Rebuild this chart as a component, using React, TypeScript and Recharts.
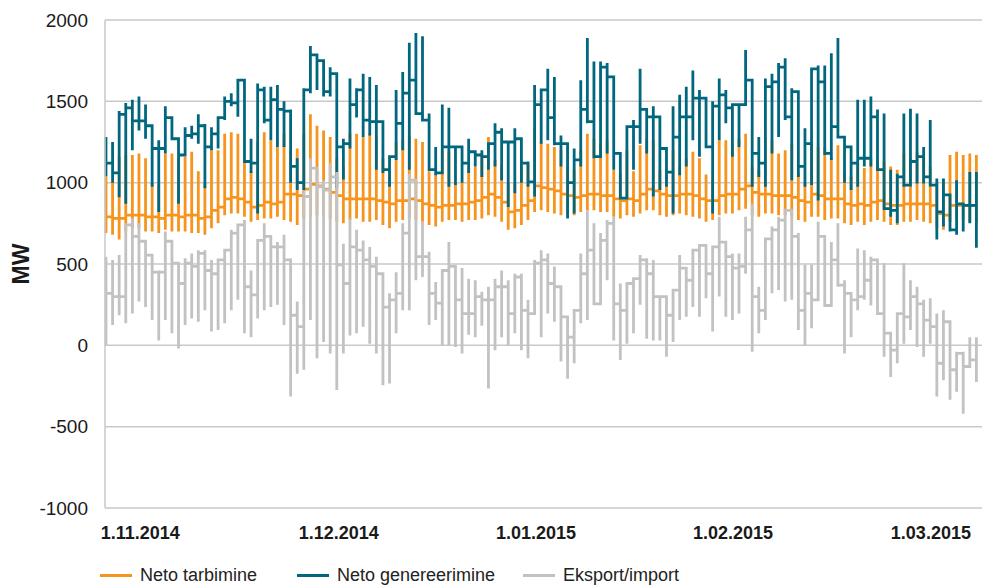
import { CartesianGrid, Legend, Line, LineChart, XAxis, YAxis } from 'recharts';

// one value per day, 1.11.2014 .. 12.03.2015 (hourly points of a day share one x, so each day is a stroke)
const consMin = [
  690, 680, 650, 700, 720, 720, 700, 700, 690, 710, 700, 700, 700, 690, 690, 680, 720, 750, 800, 810,
  810, 790, 760, 770, 780, 780, 790, 770, 760, 740, 780, 790, 800, 790, 780, 760, 750, 770, 780, 760,
  760, 770, 740, 720, 760, 770, 780, 770, 760, 740, 730, 760, 770, 770, 760, 770, 770, 780, 800, 790,
  760, 710, 720, 740, 770, 820, 830, 820, 810, 800, 810, 800, 820, 830, 830, 820, 820, 790, 780, 800,
  790, 810, 830, 830, 800, 790, 800, 810, 800, 790, 780, 760, 770, 800, 810, 810, 830, 840, 800, 790,
  810, 810, 800, 800, 790, 770, 760, 790, 790, 770, 780, 780, 750, 740, 760, 740, 760, 770, 760, 740,
  740, 760, 760, 770, 760, 750, 720, 710, 760, 770, 770, 760, 760,
];
const consMax = [
  1040, 1005, 1160, 1170, 1170, 1180, 1150, 1000, 990, 1180, 1180, 1150, 1160, 1190, 1070, 1000, 1200, 1200, 1300, 1310,
  1300, 1130, 1070, 1250, 1310, 1260, 1220, 1300, 1200, 1210, 1300, 1420, 1350, 1320, 1280, 1150, 1100, 1300, 1300, 1280,
  1300, 1280, 1150, 1080, 1250, 1260, 1290, 1270, 1250, 1070, 1050, 1200, 1190, 1000, 1000, 1090, 1100, 1180, 1280, 1140,
  1100, 1000, 1000, 1100, 1120, 1330, 1250, 1240, 1220, 1200, 1100, 1080, 1200, 1300, 1270, 1240, 1260, 1080, 1060, 1200,
  1070, 1230, 1270, 1260, 1080, 1050, 1200, 1100, 1150, 1190, 1150, 1050, 1020, 1260, 1260, 1240, 1270, 1300, 1100, 1080,
  1280, 1260, 1180, 1200, 1240, 1060, 1000, 1230, 1220, 1220, 1150, 1230, 1050, 1040, 1120, 1090, 1150, 1140, 1130, 1100,
  1080, 1180, 1150, 1190, 1170, 1100, 1000, 1020, 1170, 1190, 1170, 1180, 1170,
];
const consClose = [
  790, 780, 780, 800, 800, 800, 790, 790, 780, 800, 800, 790, 800, 800, 780, 790, 830, 850, 900, 910,
  900, 880, 850, 860, 880, 870, 880, 930, 930, 920, 960, 990, 980, 960, 940, 920, 900, 900, 900, 900,
  900, 890, 880, 870, 890, 890, 900, 890, 870, 860, 850, 860, 860, 870, 870, 880, 890, 910, 930, 910,
  880, 820, 830, 860, 890, 980, 970, 960, 950, 930, 920, 910, 920, 930, 930, 920, 920, 900, 890, 900,
  890, 930, 960, 950, 930, 920, 920, 930, 930, 920, 900, 890, 890, 920, 930, 930, 960, 980, 940, 930,
  930, 920, 920, 920, 910, 890, 880, 930, 920, 900, 900, 900, 870, 860, 870, 860, 880, 890, 870, 860,
  860, 870, 870, 870, 870, 860, 810, 800, 860, 860, 860, 860, 850,
];

const genMin = [
  1040, 1000, 910, 870, 1200, 1320, 1270, 975, 820, 1180, 1260, 870, 1180, 1270, 1240, 965, 1200, 1210, 1385, 1470,
  1405, 1140, 1060, 810, 1365, 1260, 1220, 1220, 1000, 955, 955, 1550, 1570, 1530, 1530, 965, 1020, 1210, 1400, 1280,
  1290, 1080, 1060, 975, 1140, 1200, 1080, 1420, 1385, 1080, 1045, 1060, 975, 985, 1000, 1060, 1100, 1035, 1080, 1100,
  1015, 850, 935, 1000, 975, 915, 1240, 1260, 1230, 1100, 780, 810, 1100, 1365, 1150, 1405, 1180, 1080, 905, 1100,
  1080, 1240, 1180, 915, 955, 975, 810, 1045, 1100, 1260, 1160, 1220, 810, 1260, 1365, 1160, 1220, 1490, 975, 1035,
  975, 1180, 1280, 1385, 1015, 1035, 975, 985, 890, 1170, 1140, 1280, 1000, 955, 975, 1100, 1100, 1080, 840, 790,
  750, 975, 1120, 995, 995, 985, 650, 730, 700, 680, 700, 750, 600,
];
const genMax = [
  1280, 1250, 1440, 1490, 1510, 1530, 1480, 1350, 1260, 1470, 1400, 1260, 1340, 1350, 1420, 1360, 1340, 1400, 1530, 1550,
  1630, 1630, 1270, 1610, 1590, 1590, 1600, 1500, 1450, 1150, 1580, 1840, 1785, 1750, 1710, 1670, 1270, 1640, 1580, 1670,
  1650, 1600, 1375, 1160, 1570, 1680, 1860, 1920, 1900, 1425, 1220, 1480, 1460, 1220, 1170, 1270, 1200, 1200, 1240, 1365,
  1335, 1250, 1335, 1260, 1130, 1600, 1570, 1700, 1650, 1290, 1120, 1210, 1630, 1890, 1745, 1745, 1735, 1650, 1180, 1335,
  1385, 1700, 1450, 1470, 1405, 1210, 1470, 1540, 1590, 1690, 1570, 1520, 1500, 1640, 1570, 1480, 1480, 1815, 1630, 1280,
  1640, 1670, 1735, 1765, 1580, 1560, 1335, 1700, 1720, 1720, 1795, 1890, 1280, 1220, 1510, 1510, 1530, 1450, 1425, 1080,
  1055, 1425, 1455, 1425, 1220, 1385, 1025, 1025, 925, 1015, 870, 1065, 1065,
];
const genClose = [
  1120, 1060, 1420, 1460, 1380, 1380, 1350, 1210, 1210, 1400, 1270, 1170, 1290, 1300, 1350, 1220, 1300, 1400, 1500, 1490,
  1630, 1130, 1120, 1570, 1385, 1510, 1450, 1440, 1100, 1000, 1570, 1785, 1750, 1560, 1670, 1220, 1240, 1480, 1570, 1385,
  1375, 1375, 1080, 1160, 1365, 1550, 1630, 1425, 1385, 1080, 1060, 1220, 1220, 1220, 1120, 1190, 1170, 1160, 1240, 1310,
  1250, 1250, 1270, 1120, 1005, 1480, 1570, 1400, 1240, 1240, 1000, 1140, 1450, 1375, 1160, 1710, 1650, 1180, 905, 1345,
  1345, 1450, 1405, 1405, 1210, 1065, 1280, 1405, 1405, 1520, 1520, 1220, 1470, 1540, 1460, 1480, 1480, 1630, 1180, 1120,
  1590, 1620, 1710, 1405, 1560, 1100, 1240, 1700, 1620, 1180, 1345, 1280, 1220, 1120, 1150, 1150, 1405, 1080, 840, 830,
  1035, 985, 1130, 1160, 1035, 985, 820, 925, 710, 870, 860, 860, 890,
];

const exMin = [
  0, 125, 185, 135, 195, 270, 235, 155, 30, 155, 75, -20, 125, 165, 145, 215, 85, 95, 135, 215,
  280, 75, 50, 165, 215, 235, 250, 125, -315, -175, -150, 155, -80, 20, -50, -275, -50, 60, 75, 115,
  10, -50, -245, -235, 75, 215, 215, 400, 420, 125, 155, 0, 0, -10, -50, 65, 50, 120, -265, -30,
  50, 0, 75, -30, -80, 195, 50, 195, 145, -100, -205, -110, 135, 155, 255, 400, 400, 30, -90, 10,
  75, 250, 40, 30, 30, -70, 20, 155, 175, 235, 175, 290, 85, 300, 175, 155, 195, 440, -40, 75,
  155, 320, 340, 270, 280, 95, 0, 105, 430, 235, 280, 360, -50, 50, 215, 280, 245, 195, -70, -195,
  -110, 10, 95, -10, -70, 10, -315, -215, -335, -285, -420, -130, -225,
];
const exMax = [
  545, 525, 555, 750, 780, 750, 605, 555, 460, 700, 645, 505, 535, 565, 585, 585, 525, 525, 585, 710,
  740, 770, 460, 645, 750, 625, 635, 680, 260, 270, 950, 1150, 1045, 1015, 1120, 1065, 625, 780, 710, 645,
  605, 545, 440, 320, 450, 750, 1055, 760, 760, 575, 390, 460, 635, 360, 475, 410, 400, 330, 360, 410,
  460, 400, 440, 440, 280, 525, 585, 565, 485, 320, 175, 215, 565, 830, 750, 690, 770, 790, 380, 380,
  410, 555, 535, 525, 300, 300, 340, 555, 440, 585, 615, 615, 605, 790, 625, 565, 565, 790, 870, 360,
  645, 730, 790, 840, 680, 690, 495, 495, 760, 645, 635, 750, 400, 320, 595, 585, 545, 525, 505, 75,
  195, 505, 400, 360, 280, 290, 195, 215, 145, -40, -40, 50, 50,
];
const exClose = [
  320, 300, 300, 740, 670, 640, 555, 450, 450, 640, 505, 380, 505, 485, 565, 460, 440, 525, 585, 690,
  740, 360, 310, 645, 670, 605, 605, 525, 185, 115, 915, 1090, 975, 955, 1035, 495, 380, 605, 585, 525,
  485, 440, 235, 280, 320, 690, 1015, 545, 545, 320, 260, 460, 485, 280, 195, 195, 300, 280, 280, 360,
  360, 195, 420, 215, 195, 505, 525, 380, 360, 175, 50, 215, 440, 585, 255, 645, 750, 255, 215, 380,
  410, 525, 440, 300, 300, 185, 340, 475, 400, 585, 615, 440, 605, 635, 545, 475, 485, 710, 300, 215,
  655, 710, 770, 830, 670, 215, 320, 280, 670, 245, 525, 370, 320, 280, 300, 400, 525, 195, 75, -30,
  195, 175, 300, 255, 155, 115, -110, 145, -150, -50, -130, -90, -70,
];

const tickDays = [5.2, 35.3, 65.2, 95.1, 125.1];
const tickLabels = ['1.11.2014', '1.12.2014', '1.01.2015', '1.02.2015', '1.03.2015'];
const yTicks = [-1000, -500, 0, 500, 1000, 1500, 2000];

const seriesInfo = [
  { key: 'cons', name: 'Neto tarbimine', color: '#f7941d' },
  { key: 'gen', name: 'Neto genereerimine', color: '#00677f' },
  { key: 'ex', name: 'Eksport/import', color: '#c2c2c2' },
];

const font = "'Liberation Sans', Arial, sans-serif";

// all points of a day sit on the same x: open, min, max, close
const rows: any[] = [];
consMin.forEach((_, i) => {
  const p = i > 0 ? i - 1 : 0;
  rows.push({ t: i, cons: consClose[p], gen: genClose[p], ex: exClose[p] });
  rows.push({ t: i, cons: consMin[i], gen: genMin[i], ex: exMin[i] });
  rows.push({ t: i, cons: consMax[i], gen: genMax[i], ex: exMax[i] });
  rows.push({ t: i, cons: consClose[i], gen: genClose[i], ex: exClose[i] });
});

const legendPos = [100, 297, 523];

const renderLegend = () => (
  <div style={{ position: 'relative', height: 24, fontFamily: font, fontSize: 18, color: '#222' }}>
    {seriesInfo.map((s, i) => (
      <div key={s.key} style={{ position: 'absolute', left: legendPos[i], top: 0, display: 'flex', alignItems: 'center', whiteSpace: 'nowrap' }}>
        <span style={{ display: 'inline-block', width: 32, height: 3, background: s.color, marginRight: 8 }} />
        <span>{s.name}</span>
      </div>
    ))}
  </div>
);

const App = () => {
  return (
    <div style={{ position: 'absolute', left: 0, top: 0, width: 982, height: 585, background: '#fff', overflow: 'hidden' }}>
      <LineChart width={982} height={585} data={rows} margin={{ top: 20, right: 0, bottom: 32, left: 0 }}>
        <CartesianGrid vertical={false} stroke="#c9c9c9" strokeWidth={1.5} />
        <XAxis
          dataKey="t"
          type="number"
          domain={[-0.15, 132.85]}
          ticks={tickDays}
          tickFormatter={(v, i) => tickLabels[i]}
          axisLine={false}
          tickLine={false}
          tickSize={0}
          tickMargin={18}
          height={45}
          interval={0}
          tick={{ fontFamily: font, fontSize: 18, fontWeight: 700, fill: '#1a1a1a' }}
        />
        <YAxis
          domain={[-1000, 2000]}
          ticks={yTicks}
          width={105}
          tickLine={false}
          tickSize={0}
          tickMargin={17}
          axisLine={{ stroke: '#c9c9c9', strokeWidth: 1.5 }}
          tick={{ fontFamily: font, fontSize: 19, fill: '#1a1a1a' }}
          label={{
            content: ({ viewBox }: any) => (
              <text
                x={29}
                y={viewBox.y + viewBox.height / 2}
                transform={`rotate(-90, 29, ${viewBox.y + viewBox.height / 2})`}
                textAnchor="middle"
                fontFamily={font}
                fontSize={23}
                fontWeight={700}
                fill="#1a1a1a"
              >
                MW
              </text>
            ),
          }}
        />
        <Legend
          content={renderLegend}
          layout="horizontal"
          verticalAlign="middle"
          align="center"
          wrapperStyle={{ left: 0, top: 565, width: 982 }}
        />
        {seriesInfo.map((s) => (
          <Line
            key={s.key}
            type="linear"
            dataKey={s.key}
            name={s.name}
            stroke={s.color}
            strokeWidth={2.8}
            dot={false}
            activeDot={false}
            isAnimationActive={false}
          />
        ))}
      </LineChart>
    </div>
  );
};

export default App;
